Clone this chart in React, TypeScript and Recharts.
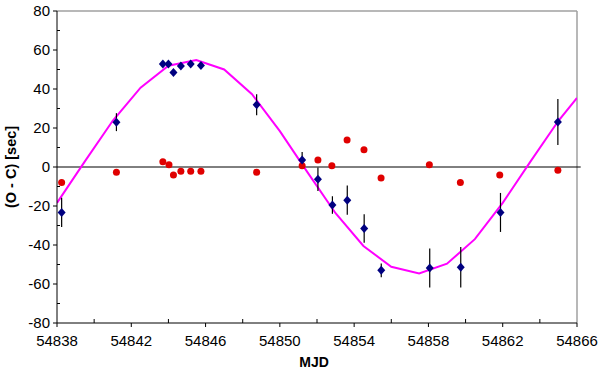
import {
  ComposedChart,
  ErrorBar,
  Label,
  Line,
  ReferenceLine,
  Scatter,
  XAxis,
  YAxis,
} from "recharts";

// MJD values of the fitted curve and its O-C values
const curveMjd = [
  54838, 54839.5, 54841, 54842.5, 54844, 54845.5, 54847, 54848.5, 54850, 54851.5,
  54853, 54854.5, 54856, 54857.5, 54859, 54860.5, 54862, 54863.5, 54865, 54866,
];
const curveOc = [
  -18.4, 2.9, 23.7, 40.7, 51.9, 54.9, 50.0, 37.3, 18.4, -2.9,
  -23.7, -40.5, -51.2, -54.6, -49.6, -37.0, -18.4, 2.9, 23.7, 35.4,
];

// blue diamonds with error bars
const blueMjd = [
  54838.25, 54841.2, 54843.7, 54844.0, 54844.27, 54844.67, 54845.2, 54845.75, 54848.75,
  54851.2, 54852.05, 54852.83, 54853.63, 54854.54, 54855.46, 54858.07, 54859.74,
  54861.88, 54864.97,
];
const blueOc = [
  -23.3, 23.0, 52.8, 52.8, 48.5, 51.8, 52.8, 52.1, 31.9, 3.6, -6.3, -19.5, -17.0, -31.5,
  -53.0, -51.8, -51.4, -23.3, 23.1,
];
const blueErr = [
  7.5, 4.6, 0, 0, 0, 0, 0, 0, 5.4, 4.1, 6.0, 4.5, 7.5, 7.3, 3.5, 10.0, 10.4, 10.0, 11.8,
];

// red circles
const redMjd = [
  54838.25, 54841.2, 54843.7, 54844.03, 54844.27, 54844.67, 54845.2, 54845.75, 54848.75,
  54851.2, 54852.05, 54852.8, 54853.62, 54854.53, 54855.45, 54858.05, 54859.72,
  54861.84, 54864.97,
];
const redOc = [
  -7.9, -2.7, 2.7, 1.2, -4.1, -2.2, -2.2, -2.2, -2.7, 0.7, 3.6, 0.7, 13.9, 8.9, -5.7, 1.2,
  -7.9, -4.1, -1.7,
];

const xTicks = [
  54838, 54840, 54842, 54844, 54846, 54848, 54850, 54852, 54854, 54856, 54858, 54860,
  54862, 54864, 54866,
];
const xLabels = [54838, 54842, 54846, 54850, 54854, 54858, 54862, 54866];
const yTicks = [-80, -70, -60, -50, -40, -30, -20, -10, 0, 10, 20, 30, 40, 50, 60, 70, 80];
const yLabels = [-80, -60, -40, -20, 0, 20, 40, 60, 80];

const curve = curveMjd.map((x, i) => ({ x, y: curveOc[i] }));
const blue = blueMjd.map((x, i) => ({ x, y: blueOc[i], err: blueErr[i] }));
const red = redMjd.map((x, i) => ({ x, y: redOc[i] }));

const FONT = "'Liberation Sans', Arial, sans-serif";

const XTick = (props: any) => {
  const { x, y, payload } = props;
  const major = xLabels.includes(payload.value);
  return (
    <g>
      <line x1={x} x2={x} y1={y} y2={major ? y + 4 : y - 4} stroke="#000" />
      {major && (
        <text x={x} y={y + 23} textAnchor="middle" fontSize={15} fontFamily={FONT} fill="#000">
          {payload.value}
        </text>
      )}
    </g>
  );
};

const YTick = (props: any) => {
  const { x, y, payload } = props;
  const major = yLabels.includes(payload.value);
  return (
    <g>
      <line x1={major ? x - 4 : x} x2={major ? x : x + 3} y1={y} y2={y} stroke="#000" />
      {major && (
        <text x={x - 7} y={y + 5} textAnchor="end" fontSize={15} fontFamily={FONT} fill="#000">
          {payload.value}
        </text>
      )}
    </g>
  );
};

const Diamond = (props: any) => {
  const { cx, cy } = props;
  return (
    <polygon
      points={`${cx},${cy - 4.5} ${cx + 4},${cy} ${cx},${cy + 4.5} ${cx - 4},${cy}`}
      fill="#000080"
    />
  );
};

const Dot = (props: any) => {
  const { cx, cy } = props;
  return <circle cx={cx} cy={cy} r={3.5} fill="#e00000" />;
};

export default function App() {
  return (
    <div style={{ position: "absolute", left: 0, top: 0, background: "#fff" }}>
      <ComposedChart width={600} height={371} margin={{ top: 11, right: 23, bottom: 0, left: 0 }}>
        <ReferenceLine y={80} stroke="#a0a0a0" strokeWidth={1.5} />
        <ReferenceLine x={54866} stroke="#a0a0a0" strokeWidth={1.5} />
        <ReferenceLine
          segment={[
            { x: 54838, y: 0 },
            { x: 54866.2, y: 0 },
          ]}
          ifOverflow="visible"
          stroke="#000"
        />
        <XAxis
          dataKey="x"
          type="number"
          domain={[54838, 54866]}
          allowDataOverflow
          ticks={xTicks}
          interval={0}
          tickSize={0}
          tickMargin={0}
          tickLine={false}
          tick={<XTick />}
          height={48}
          stroke="#000"
        >
          <Label
            content={(p: any) => {
              const vb = p.viewBox;
              return (
                <text
                  x={vb.x + vb.width / 2 - 3}
                  y={367}
                  textAnchor="middle"
                  fontSize={14}
                  fontWeight="bold"
                  fontFamily={FONT}
                  fill="#000"
                >
                  MJD
                </text>
              );
            }}
          />
        </XAxis>
        <YAxis
          dataKey="y"
          type="number"
          domain={[-80, 80]}
          allowDataOverflow
          ticks={yTicks}
          interval={0}
          tickSize={0}
          tickMargin={0}
          tickLine={false}
          tick={<YTick />}
          width={57}
          stroke="#000"
        >
          <Label
            content={(p: any) => {
              const vb = p.viewBox;
              const cy = vb.y + vb.height / 2;
              return (
                <text
                  x={16}
                  y={cy}
                  transform={`rotate(-90, 16, ${cy})`}
                  textAnchor="middle"
                  fontSize={14.5}
                  fontWeight="bold"
                  fontFamily={FONT}
                  fill="#000"
                >
                  (O - C) [sec]
                </text>
              );
            }}
          />
        </YAxis>
        <Line
          data={curve}
          dataKey="y"
          type="linear"
          stroke="#ff00ff"
          strokeWidth={2}
          dot={false}
          activeDot={false}
          isAnimationActive={false}
        />
        <Scatter data={red} dataKey="y" shape={<Dot />} isAnimationActive={false} />
        <Scatter data={blue} dataKey="y" shape={<Diamond />} isAnimationActive={false}>
          <ErrorBar dataKey="err" direction="y" width={0} stroke="#000" strokeWidth={1.2} />
        </Scatter>
      </ComposedChart>
    </div>
  );
}
